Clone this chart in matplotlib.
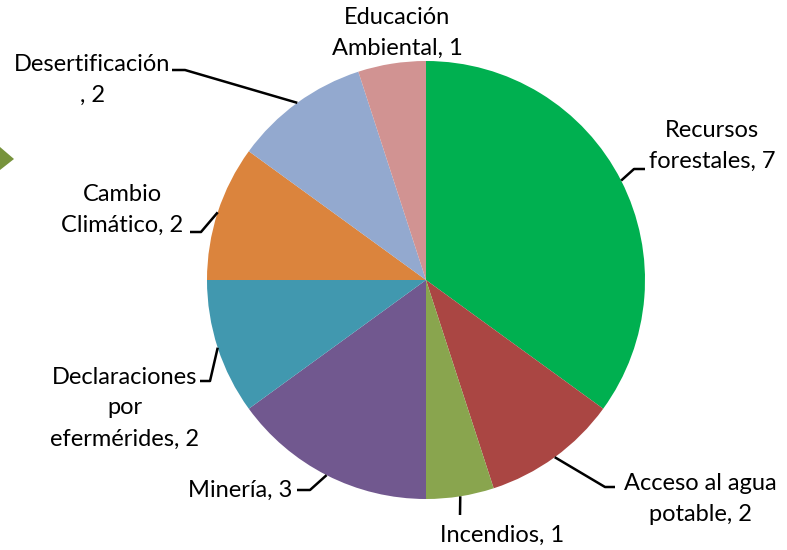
import matplotlib
matplotlib.use("Agg")
import matplotlib.pyplot as plt
import numpy as np
from matplotlib.patches import Polygon

label_texts = ["Recursos\nforestales, 7", "Acceso al agua\npotable, 2", "Incendios, 1", "Minería, 3",
               "Declaraciones\npor\nefermérides, 2", "Cambio\nClimático, 2", "Desertificación\n, 2",
               "Educación\nAmbiental, 1"]
values = [7, 2, 1, 3, 2, 2, 2, 1]
colors = ["#00B050", "#AA4643", "#89A54E", "#71588F", "#4198AF", "#DB843D", "#93A9CF", "#D19392"]

# layout (pixel coordinates)
label_pos = [(712, 146), (700, 499), (502, 535), (240, 490), (125, 408), (122, 210), (92, 80), (397, 33)]
elbows = [[(634, 169), (645, 169)], [(605, 487), (615, 487)], [(460, 515)], [(310, 490), (297, 490)],
          [(210, 381), (200, 381)], [(201, 232), (190, 232)], [(185, 70), (172, 70)], None]

plt.rcParams['font.family'] = ['Lato', 'DejaVu Sans']
fig = plt.figure(figsize=(7.87, 5.5), dpi=100)
ax = fig.add_axes([0, 0, 1, 1])

cx, cy, r = 426, 280, 219
wedges, _ = ax.pie(values, colors=colors, startangle=-90, counterclock=True,
                   center=(cx, cy), radius=r, frame=True,
                   wedgeprops=dict(linewidth=0))
ax.set_xlim(0, 787)
ax.set_ylim(550, 0)
ax.set_aspect('equal')
ax.axis('off')

total = sum(values)
cum = np.cumsum([0] + values)
for i, v in enumerate(values):
    mid = (cum[i] + v / 2) / total * 360
    ang = np.deg2rad(90 - mid)
    ex, ey = cx + r * np.cos(ang), cy - r * np.sin(ang)
    if elbows[i] is not None:
        pts = [(ex, ey)] + elbows[i]
        xs, ys = zip(*pts)
        ax.plot(xs, ys, color="black", lw=1.8, solid_capstyle='butt')
    ax.text(label_pos[i][0], label_pos[i][1], label_texts[i], ha="center", va="center",
            fontsize=17, linespacing=1.58, color="black")

ax.add_patch(Polygon([(0, 147), (14, 159), (0, 170)], closed=True, color="#77933C", lw=0))

fig.savefig("out.png", dpi=100)
